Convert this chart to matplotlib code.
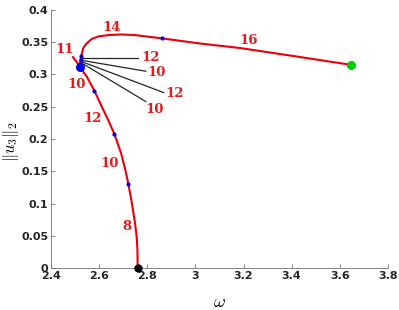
import numpy as np
import matplotlib.pyplot as plt

plt.rcParams['mathtext.fontset'] = 'cm'

# branch: lower part (from omega axis up to the fold)
low_w = [2.760, 2.759, 2.756, 2.749, 2.734, 2.721, 2.707, 2.691, 2.663, 2.638,
         2.611, 2.580, 2.548, 2.530, 2.520, 2.505, 2.491]
low_u = [0.000, 0.028, 0.048, 0.070, 0.105, 0.131, 0.155, 0.178, 0.208, 0.229,
         0.250, 0.275, 0.297, 0.306, 0.312, 0.320, 0.327]
# upper part (from fold to the end point)
up_w = [2.520, 2.521, 2.525, 2.534, 2.548, 2.569, 2.597, 2.638, 2.694, 2.749,
        2.860, 3.019, 3.185, 3.400, 3.646]
up_u = [0.312, 0.321, 0.328, 0.341, 0.348, 0.355, 0.359, 0.361, 0.362, 0.361,
        0.356, 0.348, 0.341, 0.329, 0.315]

# small blue markers on the branch
dot_w = [2.721, 2.663, 2.580, 2.525, 2.523, 2.521, 2.860]
dot_u = [0.131, 0.208, 0.275, 0.329, 0.322, 0.316, 0.356]

start_pt = (2.762, 0.0)
end_pt = (3.646, 0.315)
fold_pt = (2.520, 0.312)

# red labels along the branch
red_txt = ['14', '11', '10', '12', '10', '8', '16']
red_w = [2.650, 2.458, 2.507, 2.573, 2.642, 2.714, 3.220]
red_u = [0.373, 0.339, 0.284, 0.232, 0.162, 0.064, 0.352]

# black pointer labels for the cluster near the fold
blk_txt = ['12', '10', '12', '10']
blk_w0 = [2.526, 2.526, 2.526, 2.526]
blk_u0 = [0.325, 0.322, 0.320, 0.318]
blk_w1 = [2.760, 2.794, 2.868, 2.794]
blk_u1 = [0.325, 0.305, 0.272, 0.258]
blk_tw = [2.775, 2.800, 2.875, 2.790]
blk_tu = [0.326, 0.303, 0.271, 0.245]

red = '#e41a1c'
fig = plt.figure(figsize=(3.99, 3.10), dpi=100)
ax = fig.add_axes([0.128, 0.135, 0.844, 0.833])

for i in range(len(blk_txt)):
    ax.plot([blk_w0[i], blk_w1[i]], [blk_u0[i], blk_u1[i]], '-', color='0.15', lw=0.9)
    ax.text(blk_tw[i], blk_tu[i], blk_txt[i], color=red, family='DejaVu Serif',
            fontweight='bold', fontsize=9.5, ha='left', va='center')

ax.plot(low_w, low_u, '-', color='#e8000b', lw=1.5, solid_joinstyle='round')
ax.plot(up_w, up_u, '-', color='#e8000b', lw=1.5, solid_joinstyle='round')
ax.plot(dot_w, dot_u, 'o', color='#0000e6', ms=3, mec='none')
ax.plot(*fold_pt, 'o', color='#0000e6', ms=6.5, mec='none')
ax.plot(*start_pt, 'o', color='k', ms=6, mec='none', clip_on=False, zorder=5)
ax.plot(*end_pt, 'o', color='#00cc00', ms=6.5, mec='none')

for t, w, u in zip(red_txt, red_w, red_u):
    ax.text(w, u, t, color=red, family='DejaVu Serif', fontweight='bold',
            fontsize=9.5, ha='center', va='center')

ax.set_xlim(2.4, 3.8)
ax.set_ylim(0, 0.4)
ax.set_xticks(np.arange(2.4, 3.81, 0.2))
ax.set_xticklabels(['2.4', '2.6', '2.8', '3', '3.2', '3.4', '3.6', '3.8'])
ax.set_yticks(np.arange(0, 0.41, 0.05))
ax.set_yticklabels(['0', '0.05', '0.1', '0.15', '0.2', '0.25', '0.3', '0.35', '0.4'])
ax.tick_params(direction='in', length=3, width=0.6, color='0.45', labelsize=8,
               labelcolor='0.15', pad=2)
for lab in ax.get_xticklabels() + ax.get_yticklabels():
    lab.set_fontweight('bold')
ax.spines['top'].set_visible(False)
ax.spines['right'].set_visible(False)
ax.spines['left'].set_color('0.45')
ax.spines['bottom'].set_color('0.45')
ax.spines['left'].set_linewidth(0.6)
ax.spines['bottom'].set_linewidth(0.6)

ax.set_xlabel(r'$\omega$', fontsize=13)
ax.set_ylabel(r'$\|u_3\|_2$', fontsize=12)
ax.xaxis.set_label_coords(0.5, -0.095)
ax.yaxis.set_label_coords(-0.089, 0.49)

fig.savefig('out.png', dpi=100)
